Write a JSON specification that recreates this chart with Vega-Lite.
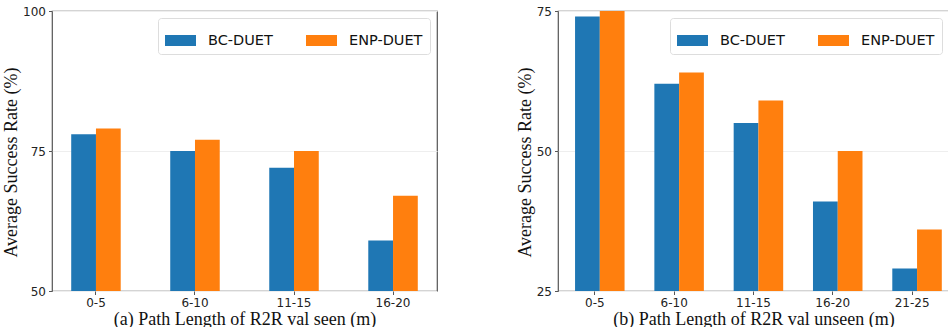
{
  "$schema": "https://vega.github.io/schema/vega-lite/v6.json",
  "padding": {"left": 1, "top": 4, "right": 0, "bottom": 0},
  "background": "white",
  "datasets": {
    "seen": [
      {"range": "0-5", "method": "BC-DUET", "rate": 78},
      {"range": "0-5", "method": "ENP-DUET", "rate": 79},
      {"range": "6-10", "method": "BC-DUET", "rate": 75},
      {"range": "6-10", "method": "ENP-DUET", "rate": 77},
      {"range": "11-15", "method": "BC-DUET", "rate": 72},
      {"range": "11-15", "method": "ENP-DUET", "rate": 75},
      {"range": "16-20", "method": "BC-DUET", "rate": 59},
      {"range": "16-20", "method": "ENP-DUET", "rate": 67}
    ],
    "unseen": [
      {"range": "0-5", "method": "BC-DUET", "rate": 74},
      {"range": "0-5", "method": "ENP-DUET", "rate": 75},
      {"range": "6-10", "method": "BC-DUET", "rate": 62},
      {"range": "6-10", "method": "ENP-DUET", "rate": 64},
      {"range": "11-15", "method": "BC-DUET", "rate": 55},
      {"range": "11-15", "method": "ENP-DUET", "rate": 59},
      {"range": "16-20", "method": "BC-DUET", "rate": 41},
      {"range": "16-20", "method": "ENP-DUET", "rate": 50},
      {"range": "21-25", "method": "BC-DUET", "rate": 29},
      {"range": "21-25", "method": "ENP-DUET", "rate": 36}
    ]
  },
  "config": {
    "font": "DejaVu Sans",
    "view": {"stroke": "#555", "strokeWidth": 1.2},
    "concat": {"spacing": 77},
    "axis": {
      "labelFont": "DejaVu Sans",
      "labelFontSize": 12,
      "labelColor": "#222",
      "titleFont": "Liberation Serif",
      "titleFontSize": 18,
      "titleFontWeight": "normal",
      "titleColor": "#111",
      "domain": false,
      "tickColor": "#555",
      "tickSize": 3.5,
      "labelPadding": 3,
      "gridColor": "#eee",
      "titlePadding": 2
    },
    "axisY": {"titleY": 151},
    "legend": {
      "orient": "top-right",
      "direction": "horizontal",
      "offset": 7,
      "padding": 7,
      "fillColor": "white",
      "strokeColor": "#ddd",
      "cornerRadius": 3,
      "labelFont": "DejaVu Sans",
      "labelFontSize": 14.5,
      "labelColor": "#111",
      "labelOffset": 12,
      "columnPadding": 33,
      "symbolType": "M-1,-0.355H1V0.355H-1Z",
      "symbolSize": 961,
      "symbolStrokeWidth": 0,
      "symbolOpacity": 1
    }
  },
  "resolve": {"legend": {"color": "independent"}},
  "hconcat": [
    {
      "data": {"name": "seen"},
      "width": 385,
      "height": 280,
      "mark": {"type": "bar", "clip": true},
      "encoding": {
        "x": {
          "field": "range", "type": "nominal", "sort": null,
          "scale": {"paddingInner": 0.5, "paddingOuter": 0.194},
          "axis": {"labelAngle": 0, "title": "(a) Path Length of R2R val seen (m)", "grid": false}
        },
        "xOffset": {"field": "method", "type": "nominal", "sort": ["BC-DUET", "ENP-DUET"]},
        "y": {
          "field": "rate", "type": "quantitative",
          "scale": {"domain": [50, 100], "zero": false, "nice": false},
          "axis": {"values": [50, 75, 100], "title": "Average Success Rate (%)", "grid": true}
        },
        "color": {
          "field": "method", "type": "nominal",
          "scale": {"domain": ["BC-DUET", "ENP-DUET"], "range": ["#1f77b4", "#ff7f0e"]},
          "legend": {"title": null}
        }
      }
    },
    {
      "data": {"name": "unseen"},
      "width": 391,
      "height": 280,
      "mark": {"type": "bar", "clip": true},
      "encoding": {
        "x": {
          "field": "range", "type": "nominal", "sort": null,
          "scale": {"paddingInner": 0.5, "paddingOuter": 0.215},
          "axis": {"labelAngle": 0, "title": "(b) Path Length of R2R val unseen (m)", "grid": false}
        },
        "xOffset": {"field": "method", "type": "nominal", "sort": ["BC-DUET", "ENP-DUET"]},
        "y": {
          "field": "rate", "type": "quantitative",
          "scale": {"domain": [25, 75], "zero": false, "nice": false},
          "axis": {"values": [25, 50, 75], "title": "Average Success Rate (%)", "grid": true}
        },
        "color": {
          "field": "method", "type": "nominal",
          "scale": {"domain": ["BC-DUET", "ENP-DUET"], "range": ["#1f77b4", "#ff7f0e"]},
          "legend": {"title": null}
        }
      }
    }
  ]
}
